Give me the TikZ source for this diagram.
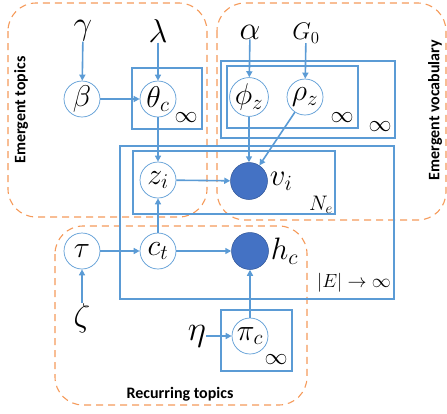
\RequirePackage{fix-cm}
\documentclass[tikz,border=0pt]{standalone}
\usepackage{fontspec}
\newfontfamily\labfont{Carlito}
\usetikzlibrary{arrows.meta}
\definecolor{plateblue}{HTML}{5B9BD5}
\definecolor{obsfill}{HTML}{4472C4}
\definecolor{obsline}{HTML}{2F5597}
\definecolor{groupline}{HTML}{F59A5A}
\tikzset{
  mathtxt/.style={font=\fontsize{33}{38}\selectfont, inner sep=0pt},
  latent/.style={circle, draw=plateblue, line width=0.7pt, fill=white,
    minimum size=36pt, inner sep=0pt, font=\fontsize{30}{34}\selectfont},
  observed/.style={circle, draw=obsline, line width=0.5pt, fill=obsfill,
    minimum size=37pt, inner sep=0pt},
  plate/.style={draw=plateblue, line width=1.6pt},
  edge/.style={draw=plateblue, line width=1.6pt, -{Triangle[length=6pt,width=6pt]}},
  group/.style={draw=groupline, dashed, dash pattern=on 7pt off 5pt,
    line width=1.1pt, rounded corners=28pt},
  grouplabel/.style={font=\labfont\bfseries\fontsize{16}{19}\selectfont, inner sep=0pt},
  count/.style={inner sep=0pt, font=\fontsize{23}{27}\selectfont},
}
\begin{document}
\begin{tikzpicture}[x=1pt, y=-1pt]
\useasboundingbox (0,0) rectangle (447,413);

% dashed groups
\draw[group] (8,3) rectangle (207,217);
\draw[group] (217,3) rectangle (446,220);
\draw[group] (55,226) rectangle (307,405);
\node[grouplabel, rotate=90] (lbltopics) at (21,110) {Emergent topics};
\node[grouplabel, rotate=90] (lblvocab) at (435,110) {Emergent vocabulary};
\node[grouplabel] (lblrecur) at (180,394) {Recurring topics};

% plates
\draw[plate] (120,146) rectangle (394,299);
\draw[plate] (133,151) rectangle (335,214);
\draw[plate] (132,68) rectangle (202,129);
\draw[plate] (221,61) rectangle (395,138);
\draw[plate] (227,66) rectangle (358,128);
\draw[plate] (221,310) rectangle (292,371);
\node[count] (infT) at (186,118) {$\infty$};
\node[count] (infPin) at (342,118) {$\infty$};
\node[count] (infPout) at (380,127) {$\infty$};
\node[count] (infPi) at (276,360) {$\infty$};
\node[inner sep=0pt, font=\fontsize{21}{25}\selectfont] (Nlab) at (321,205) {$N_e$};
\node[inner sep=0pt, font=\fontsize{19}{23}\selectfont] (Elab) at (354,283) {$|E|\rightarrow\infty$};

% hyperparameters
\node[mathtxt] (gamma) at (83,31) {$\gamma$};
\node[mathtxt] (lambda) at (158,31) {$\lambda$};
\node[mathtxt] (alpha) at (250,32) {$\alpha$};
\node[inner sep=0pt, font=\fontsize{24}{28}\selectfont] (G0) at (306,33) {$G_0$};
\node[mathtxt] (zeta) at (82,318) {$\zeta$};
\node[mathtxt, font=\fontsize{35}{40}\selectfont] (eta) at (197,336) {$\eta$};

% random variables
\node[latent] (beta) at (82,99) {$\beta$};
\node[latent] (theta) at (158,99) {$\theta_c$};
\node[latent] (z) at (158,180) {$z_i$};
\node[latent] (phi) at (249,97) {$\phi_z$};
\node[latent] (rho) at (305,97) {$\rho_z$};
\node[latent] (tau) at (82,251) {$\tau$};
\node[latent] (c) at (158,251) {$c_t$};
\node[latent] (pi) at (250,336) {$\pi_c$};
\node[observed] (v) at (249,181) {};
\node[observed] (h) at (250,251) {};
\node[mathtxt, font=\fontsize{31}{36}\selectfont, anchor=west] (vlab) at ([xshift=2pt]v.east) {$v_i$};
\node[mathtxt, font=\fontsize{31}{36}\selectfont, anchor=west] (hlab) at ([xshift=2pt]h.east) {$h_c$};

% dependencies
\draw[edge] (gamma) -- (beta);
\draw[edge] (lambda) -- (theta);
\draw[edge] (beta) -- (theta);
\draw[edge] (theta) -- (z);
\draw[edge] (alpha) -- (phi);
\draw[edge] (G0) -- (rho);
\draw[edge] (z) -- (v);
\draw[edge] (phi) -- (v);
\draw[edge] (rho) -- (v);
\draw[edge] (c) -- (z);
\draw[edge] (tau) -- (c);
\draw[edge] (zeta) -- (tau);
\draw[edge] (c) -- (h);
\draw[edge] (eta) -- (pi);
\draw[edge] (pi) -- (h);
\end{tikzpicture}
\end{document}
